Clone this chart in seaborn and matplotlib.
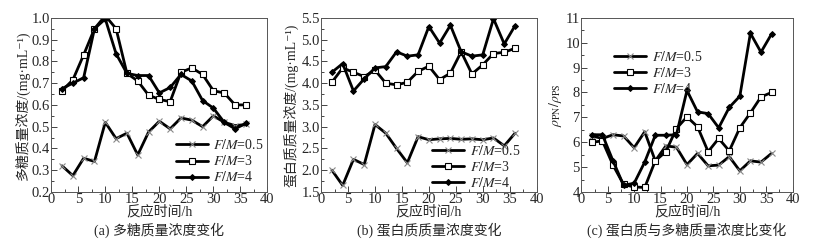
import matplotlib
matplotlib.use('Agg')
import matplotlib.pyplot as plt
import seaborn as sns
from matplotlib.ticker import MultipleLocator, FormatStrFormatter

# 数据 (反应时间/h)
t = [2, 4, 6, 8, 10, 12, 14, 16, 18, 20, 22, 24, 26, 28, 30, 32, 34, 36]
labels = ['F/M=0.5', 'F/M=3', 'F/M=4']

# (a) 多糖质量浓度
ps_05 = [0.32, 0.275, 0.355, 0.34, 0.52, 0.445, 0.47, 0.37, 0.475, 0.525, 0.49, 0.54, 0.53, 0.50, 0.55, 0.52, 0.505, 0.51]
ps_3 = [0.665, 0.715, 0.83, 0.95, 1.01, 0.95, 0.745, 0.71, 0.645, 0.625, 0.615, 0.75, 0.77, 0.74, 0.665, 0.655, 0.60, 0.60]
ps_4 = [0.675, 0.70, 0.725, 0.95, 0.995, 0.835, 0.745, 0.735, 0.735, 0.655, 0.68, 0.74, 0.71, 0.62, 0.585, 0.52, 0.49, 0.515]

# (b) 蛋白质质量浓度
pn_05 = [2.0, 1.65, 2.25, 2.13, 3.05, 2.85, 2.5, 2.17, 2.77, 2.70, 2.72, 2.73, 2.71, 2.72, 2.70, 2.74, 2.56, 2.85]
pn_3 = [4.02, 4.35, 4.25, 4.15, 4.30, 4.0, 3.96, 4.02, 4.27, 4.39, 4.08, 4.23, 4.72, 4.21, 4.42, 4.68, 4.71, 4.80]
pn_4 = [4.25, 4.45, 3.82, 4.10, 4.35, 4.38, 4.72, 4.62, 4.65, 5.30, 4.92, 5.33, 4.72, 4.62, 4.65, 5.48, 4.90, 5.32]

# (c) PN/PS
ratio_05 = [6.25, 6.15, 6.30, 6.25, 5.78, 6.42, 5.25, 5.85, 5.80, 5.10, 5.55, 5.05, 5.08, 5.42, 4.85, 5.25, 5.20, 5.55]
ratio_3 = [6.0, 6.05, 5.08, 4.30, 4.20, 4.18, 5.25, 5.62, 6.55, 7.02, 6.62, 5.62, 6.15, 5.65, 6.58, 7.18, 7.82, 8.0]
ratio_4 = [6.30, 6.30, 5.25, 4.27, 4.35, 5.2, 6.28, 6.28, 6.30, 8.08, 7.22, 7.15, 6.58, 7.40, 7.85, 10.38, 9.62, 10.35]

sns.set_style('ticks')
plt.rcParams['font.family'] = ['Liberation Serif', 'Noto Sans CJK SC', 'DejaVu Sans']
plt.rcParams['mathtext.fontset'] = 'stix'

fig = plt.figure(figsize=(8.13, 2.48), dpi=100)
ax1 = fig.add_axes([0.063, 0.226, 0.266, 0.702])
ax2 = fig.add_axes([0.395, 0.226, 0.265, 0.702])
ax3 = fig.add_axes([0.715, 0.226, 0.260, 0.702])

styles = [
    dict(marker='x', markersize=4, markeredgewidth=0.8, markeredgecolor='#888888'),
    dict(marker='s', markersize=4, markerfacecolor='white', markeredgecolor='black', markeredgewidth=0.8),
    dict(marker='D', markersize=3, markerfacecolor='black', markeredgecolor='black'),
]


def draw(ax, series, ylim, ymajor, yminor, ylabel, caption, leg_anchor):
    for lab, ys, st in zip(labels, series, styles):
        sns.lineplot(x=t, y=ys, ax=ax, color='black', linewidth=2, label=lab, **st)
    ax.set_xlim(0, 40)
    ax.set_ylim(*ylim)
    ax.xaxis.set_major_locator(MultipleLocator(5))
    ax.xaxis.set_minor_locator(MultipleLocator(2.5))
    ax.yaxis.set_major_locator(MultipleLocator(ymajor))
    ax.yaxis.set_minor_locator(MultipleLocator(yminor))
    ax.tick_params(which='both', direction='in', top=False, right=False, labelsize=10.5, pad=1)
    ax.tick_params(which='major', length=4, width=0.6)
    ax.tick_params(which='minor', length=2, width=0.6)
    for s in ax.spines.values():
        s.set_visible(True)
        s.set_linewidth(0.7)
        s.set_color('#555555')
    ax.set_xlabel('反应时间/h', fontsize=10, labelpad=-1)
    ax.set_ylabel(ylabel, fontsize=10, labelpad=1)
    ax.text(0.5, -0.22, caption, transform=ax.transAxes, ha='center', va='center', fontsize=10)
    leg = ax.legend(loc='upper left', bbox_to_anchor=leg_anchor, frameon=False,
                    handlelength=2.3, handletextpad=0.4, fontsize=10,
                    labelspacing=0.15, borderaxespad=0)
    for txt in leg.get_texts():
        txt.set_text('$F/M$=' + txt.get_text().split('=')[1])


draw(ax1, [ps_05, ps_3, ps_4], (0.2, 1.0), 0.1, 0.05,
     '多糖质量浓度/(mg·mL⁻¹)', '(a) 多糖质量浓度变化', (0.55, 0.34))
ax1.yaxis.set_major_formatter(FormatStrFormatter('%.1f'))
draw(ax2, [pn_05, pn_3, pn_4], (1.5, 5.5), 0.5, 0.25,
     '蛋白质质量浓度/(mg·mL⁻¹)', '(b) 蛋白质质量浓度变化', (0.49, 0.31))
ax2.yaxis.set_major_formatter(FormatStrFormatter('%.1f'))
draw(ax3, [ratio_05, ratio_3, ratio_4], (4, 11), 1, 0.5,
     r'$\rho_{\rm PN}/\rho_{\rm PS}$', '(c) 蛋白质与多糖质量浓度比变化', (0.13, 0.85))

fig.savefig('out.png', dpi=100)
